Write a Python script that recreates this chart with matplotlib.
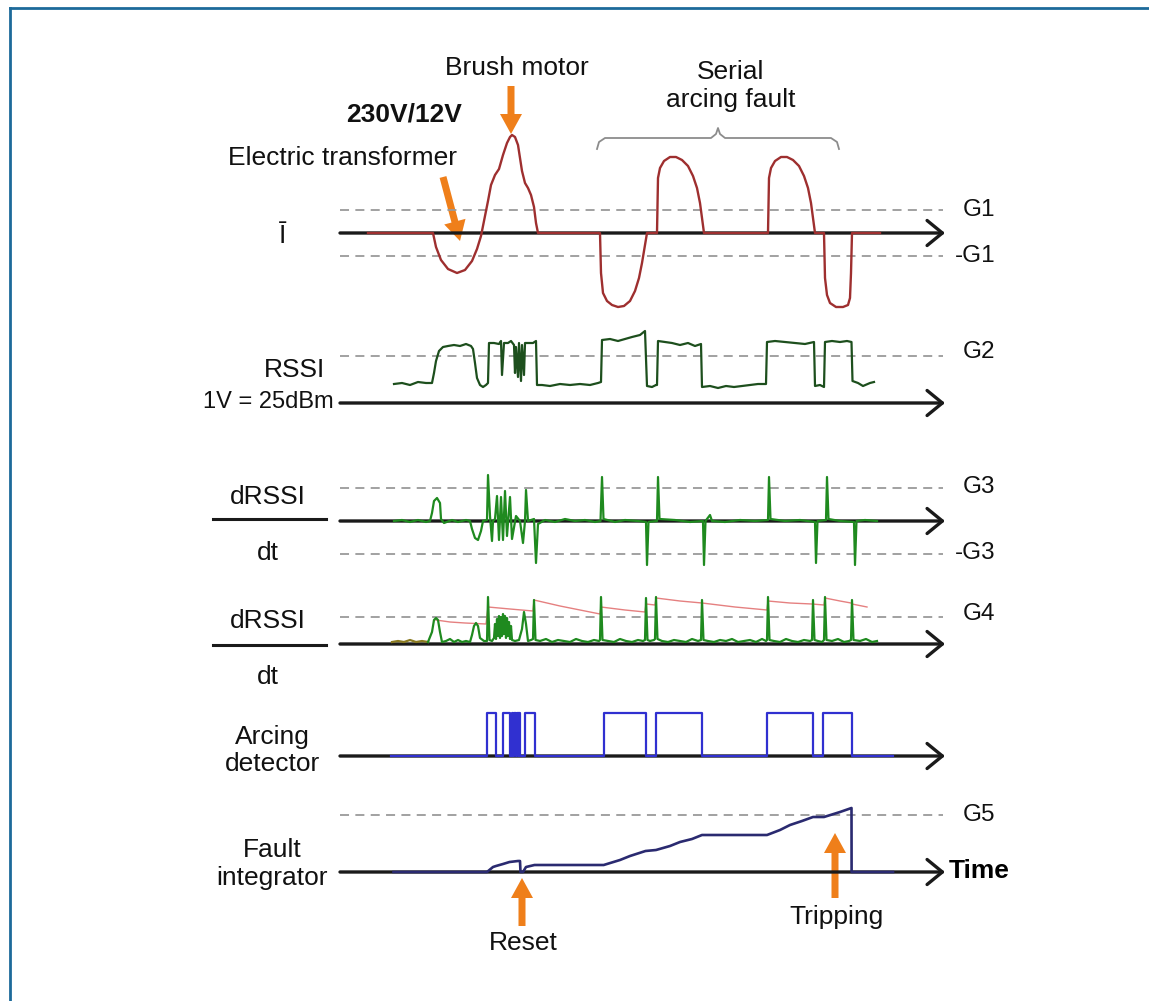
"""Arc fault detection timing diagram."""

import matplotlib.pyplot as plt

W, H = 1149, 1001
plt.rcParams['font.family'] = ['Liberation Sans', 'DejaVu Sans']

# ---- signals (time in arbitrary units, amplitudes in arbitrary units) ----
# current I
cur_t = [28, 93, 96, 101, 108, 117, 125, 132, 137, 141,
         144, 148, 151, 155, 159, 163, 167, 170, 172, 175, 178, 182, 185, 188, 191, 194, 196, 198,
         260, 261, 263, 267, 272, 278, 284, 290, 295, 299, 302, 305, 307,
         317, 318, 320, 324, 330, 336, 342, 348, 353, 357, 360, 362, 364,
         428, 429, 431, 435, 441, 447, 453, 459, 464, 468, 471, 473, 475,
         484, 485, 487, 490, 496, 503, 508, 510, 511, 512, 540]
cur_v = [0, 0, -14, -27, -36, -40, -37, -28, -16, -3,
         12, 32, 48, 58, 64, 78, 90, 96, 98, 96, 88, 62, 50, 45, 38, 26, 10, 0,
         0, -40, -60, -68, -72, -74, -73, -68, -58, -45, -30, -12, 0,
         0, 55, 65, 72, 76, 76, 73, 67, 57, 45, 30, 15, 0,
         0, 55, 65, 72, 76, 76, 73, 67, 57, 45, 30, 15, 0,
         0, -45, -62, -70, -74, -74, -72, -65, -40, 0, 0]

# RSSI
rssi_t = [54, 62, 70, 78, 86, 92, 94, 96, 99, 103,
          108, 114, 120, 126, 131, 133, 135, 137, 140, 143,
          146, 148, 149, 154, 159, 161, 162, 164, 168, 171,
          174, 175, 176, 178, 179, 181, 182, 184, 185, 188,
          193, 196, 197, 202, 210, 220, 230, 240, 250, 258,
          261, 262, 270, 278, 285, 292, 300, 305, 307, 312,
          316, 317, 318, 325, 332, 340, 348, 355, 361, 362,
          370, 378, 386, 394, 402, 410, 418, 426, 427, 435,
          445, 455, 465, 474, 475, 480, 484, 485, 492, 500,
          507, 511.5, 512.5, 518, 523, 530, 534]
rssi_v = [19, 20, 18, 21, 20, 20, 30, 42, 52, 56,
          57, 58, 57, 59, 57, 54, 40, 25, 18, 16,
          18, 20, 60, 60, 59, 62, 28, 60, 60, 62,
          58, 30, 56, 26, 60, 22, 58, 28, 60, 60,
          60, 62, 18, 18, 17, 19, 18, 19, 18, 20,
          21, 63, 64, 62, 64, 66, 68, 72, 17, 16,
          18, 18, 62, 61, 60, 58, 60, 57, 59, 16,
          17, 15, 17, 16, 17, 18, 19, 19, 61, 62,
          61, 60, 59, 61, 17, 18, 16, 61, 62, 61,
          62, 61, 22, 20, 17, 20, 21]

# dRSSI/dt
drs_t = [54, 62, 70, 78, 86, 90, 92, 94, 97, 100,
         101, 104, 112, 118, 126, 130, 132, 135, 138, 141,
         143, 147, 148, 150, 152, 153, 155, 157, 159, 161,
         163, 165, 167, 170, 172, 176, 180, 183, 185, 186,
         188, 194, 196, 198, 205, 215, 225, 235, 245, 255,
         260.5, 262, 263.5, 275, 285, 298, 306, 307, 308.5, 317,
         318, 319.5, 335, 350, 363, 364, 365.5, 370, 372, 385,
         400, 415, 428, 429, 430.5, 445, 460, 475, 476, 477.5,
         486, 487, 488.5, 500, 514, 515, 516.5, 525, 537]
drs_v = [0, 1, -1, 1, -1, 0, 8, 20, 23, 18,
         2, -2, 1, -1, 1, 0, -8, -17, -19, -10,
         0, 1, 46, 5, -20, 0, 2, 25, -19, 24,
         -19, 30, -15, 24, -18, 5, 0, -22, 0, 31,
         0, 2, -42, -3, 1, -1, 2, 0, 1, -1,
         0, 44, 2, -1, 1, 0, -1, -44, -1, 0,
         44, 2, 1, -1, 0, -44, 0, 6, 0, -1,
         1, 0, 1, 44, 2, 0, 1, -1, -42, 0,
         1, 44, 2, 0, -1, -44, 0, 1, 0]

# |dRSSI/dt|
abs_t = [88, 92, 94, 96, 98, 100, 102, 106, 110, 114,
         118, 122, 126, 130, 132, 134, 136, 138, 140, 144,
         147, 148, 149.5, 152, 154, 155, 156, 157, 158, 159,
         160, 161, 162, 163, 164, 165, 166, 167, 168, 169,
         170, 171, 172, 175, 179, 182, 184, 186, 188, 191,
         193, 194, 195.5, 200, 206, 212, 218, 224, 230, 236,
         242, 248, 254, 259, 260, 261, 262.5, 268, 274, 280,
         286, 292, 298, 303, 305, 306, 307.5, 310, 314, 315,
         316, 317.5, 322, 328, 334, 340, 346, 352, 358, 361,
         362, 363.5, 368, 374, 380, 386, 392, 398, 404, 410,
         416, 422, 426, 427, 428, 429.5, 434, 440, 446, 452,
         458, 464, 470, 472, 473, 474.5, 478, 482, 484, 485,
         486.5, 492, 498, 504, 509, 511, 512, 513.5, 520, 526,
         532, 537]
abs_v = [2, 12, 24, 26, 24, 12, 2, 3, 5, 2,
         4, 2, 3, 2, 9, 18, 21, 18, 6, 3,
         3, 47, 4, 3, 6, 20, 5, 25, 8, 28,
         6, 27, 8, 30, 10, 28, 6, 26, 8, 22,
         5, 18, 4, 3, 4, 15, 32, 20, 3, 4,
         5, 44, 4, 3, 5, 2, 4, 3, 2, 5,
         3, 2, 4, 3, 4, 47, 4, 3, 2, 5,
         3, 2, 4, 3, 4, 46, 4, 3, 4, 5,
         47, 5, 3, 2, 4, 3, 2, 5, 3, 4,
         44, 4, 3, 2, 4, 3, 5, 2, 3, 4,
         2, 5, 3, 4, 47, 4, 3, 2, 5, 3,
         2, 4, 3, 4, 44, 4, 3, 2, 4, 47,
         4, 3, 5, 2, 3, 4, 44, 4, 3, 5,
         2, 3]
olive_t = [52, 58, 64, 70, 76, 82, 88]
olive_v = [2, 3, 2, 4, 2, 3, 2]

# adaptive threshold (decaying peak)
red_t = [96, 110, 125, 146, 148, 170, 193, 194, 220, 245,
         260, 261, 285, 305, 306, 315, 316, 340, 362, 395,
         427, 428, 450, 472, 484, 485, 500, 511, 512, 527]
red_v = [24, 22, 21, 20, 37, 35, 33, 44, 38, 33,
         30, 37, 34, 32, 40, 39, 46, 43, 41, 37,
         34, 43, 41, 40, 39, 46, 43, 41, 40, 37]

# arcing detector pulses
det_on = [147, 162.5, 171.5, 174, 176.5, 179, 185, 264, 316, 427, 483]
det_off = [156, 169.5, 173, 175.5, 178.5, 180, 194.5, 305.5, 362, 473, 511.5]
det_span = [51, 553]
det_high = 43

# fault integrator
fi_t = [53.5, 147, 153, 156, 163, 169.5, 178, 180, 180.5, 183,
        186, 194.5, 263.7, 280, 290, 305.5, 316, 330, 340, 352,
        362, 427, 440, 450, 462, 473, 484, 500, 511.5, 511.6, 553]
fi_v = [0, 0, 5, 6, 8, 10, 11, 11, 0, 0,
        5, 7, 7, 12, 16, 21, 22, 26, 30, 33,
        37, 37, 42, 47, 51, 55, 55, 60, 64, 0, 0]

# thresholds
G1, G2, G3, G4, G5 = 23, 47, 33, 27, 57

ORANGE = '#ef7f1a'
AXIS = '#1a1a1a'
DASH = '#9a9a9a'

fig = plt.figure(figsize=(W / 100, H / 100), dpi=100)
bg = fig.add_axes([0, 0, 1, 1])
bg.set_xlim(0, W)
bg.set_ylim(H, 0)
bg.axis('off')

X0, XW = 340, 605


def panel(base, up, down):
    ax = fig.add_axes([X0 / W, 1 - (base + down) / H, XW / W, (up + down) / H])
    ax.set_xlim(0, XW)
    ax.set_ylim(-down, up)
    ax.axis('off')
    ax.patch.set_alpha(0)
    return ax


def time_axis(ax, levels):
    for g in levels:
        ax.hlines(g, 0, XW - 2, color=DASH, lw=1.3, linestyles=(0, (5, 3.5)), zorder=1)
    ax.annotate('', xy=(XW, 0), xytext=(0, 0), annotation_clip=False,
                arrowprops=dict(arrowstyle='->,head_length=0.55,head_width=0.45',
                                lw=2.4, color=AXIS, shrinkA=0, shrinkB=0,
                                mutation_scale=20), zorder=2)


# current
ax1 = panel(233, 110, 85)
time_axis(ax1, [G1, -G1])
ax1.plot(cur_t, cur_v, color='#9e2f2f', lw=1.7, zorder=3)

# RSSI
ax2 = panel(403, 85, 15)
time_axis(ax2, [G2])
ax2.plot(rssi_t, rssi_v, color='#1d4f1d', lw=1.6, zorder=3)

# dRSSI/dt
ax3 = panel(521, 55, 55)
time_axis(ax3, [G3, -G3])
ax3.plot(drs_t, drs_v, color='#1f8a1f', lw=1.6, zorder=3)

# |dRSSI/dt|
ax4 = panel(644, 60, 15)
time_axis(ax4, [G4])
ax4.plot(red_t, red_v, color='#e58080', lw=1.0, zorder=3)
ax4.plot(olive_t, olive_v, color='#8a7a20', lw=1.6, zorder=3)
ax4.plot(abs_t, abs_v, color='#1f8a1f', lw=1.6, zorder=3)

# arcing detector
ax5 = panel(756, 55, 15)
time_axis(ax5, [])
dx, dy = [det_span[0]], [0]
for a, b in zip(det_on, det_off):
    dx += [a, a, b, b]
    dy += [0, det_high, det_high, 0]
dx.append(det_span[1])
dy.append(0)
ax5.plot(dx, dy, color='#3030d0', lw=1.6, zorder=3)

# fault integrator
ax6 = panel(872, 75, 15)
time_axis(ax6, [G5])
ax6.plot(fi_t, fi_v, color='#2a2a70', lw=1.9, zorder=3)

# ---- annotations (pixel coordinates) ----
FS = 19
GS = 17.5
txt = dict(fontsize=FS, color='#111111', va='center')

bg.text(517, 68, 'Brush motor', ha='center', **txt)
bg.text(731, 72, 'Serial', ha='center', **txt)
bg.text(731, 100, 'arcing fault', ha='center', **txt)
bg.text(404, 115, '230V/12V', ha='center', fontweight='bold', **txt)
bg.text(343, 158, 'Electric transformer', ha='center', **txt)
bg.text(283, 236, 'Ī', ha='center', **txt)

bg.text(295, 370, 'RSSI', ha='center', **txt)
bg.text(334, 402, '1V = 25dBm', ha='right', fontsize=17, color='#111111', va='center')
for top, bar, bot in [(497, 519, 553), (621, 645, 677)]:
    bg.text(268, top, 'dRSSI', ha='center', **txt)
    bg.plot([213, 326], [bar, bar], color=AXIS, lw=2.2)
    bg.text(268, bot, 'dt', ha='center', **txt)
bg.text(272, 737, 'Arcing', ha='center', **txt)
bg.text(272, 764, 'detector', ha='center', **txt)
bg.text(272, 850, 'Fault', ha='center', **txt)
bg.text(272, 878, 'integrator', ha='center', **txt)

gtx = dict(fontsize=GS, color='#111111', va='center', ha='left')
bg.text(963, 210, 'G1', **gtx)
bg.text(955, 256, '-G1', **gtx)
bg.text(963, 352, 'G2', **gtx)
bg.text(963, 487, 'G3', **gtx)
bg.text(955, 553, '-G3', **gtx)
bg.text(963, 614, 'G4', **gtx)
bg.text(963, 815, 'G5', **gtx)
bg.text(949, 871, 'Time', fontsize=FS, fontweight='bold', va='center', ha='left')

bg.text(523, 943, 'Reset', ha='center', **txt)
bg.text(836, 917, 'Tripping', ha='center', **txt)

# brace over the serial arcing fault
bg.plot([597, 599, 605, 711, 716, 718, 720, 725, 831, 837, 839],
        [149, 142, 138, 138, 134, 128, 134, 138, 138, 142, 149],
        color='#8c8c8c', lw=1.3)

# orange arrows
for (x0, y0, x1, y1) in [(511, 86, 511, 134), (443, 177, 460, 241),
                         (522, 926, 522, 878), (835, 898, 835, 833)]:
    bg.arrow(x0, y0, x1 - x0, y1 - y0, width=7, head_width=22, head_length=20,
             length_includes_head=True, color=ORANGE, lw=0)

# frame
bg.plot([10, 10], [1001, 8], color='#1d6a9a', lw=2)
bg.plot([10, 1149], [8, 8], color='#1d6a9a', lw=2)

fig.savefig('out.png', dpi=100)
